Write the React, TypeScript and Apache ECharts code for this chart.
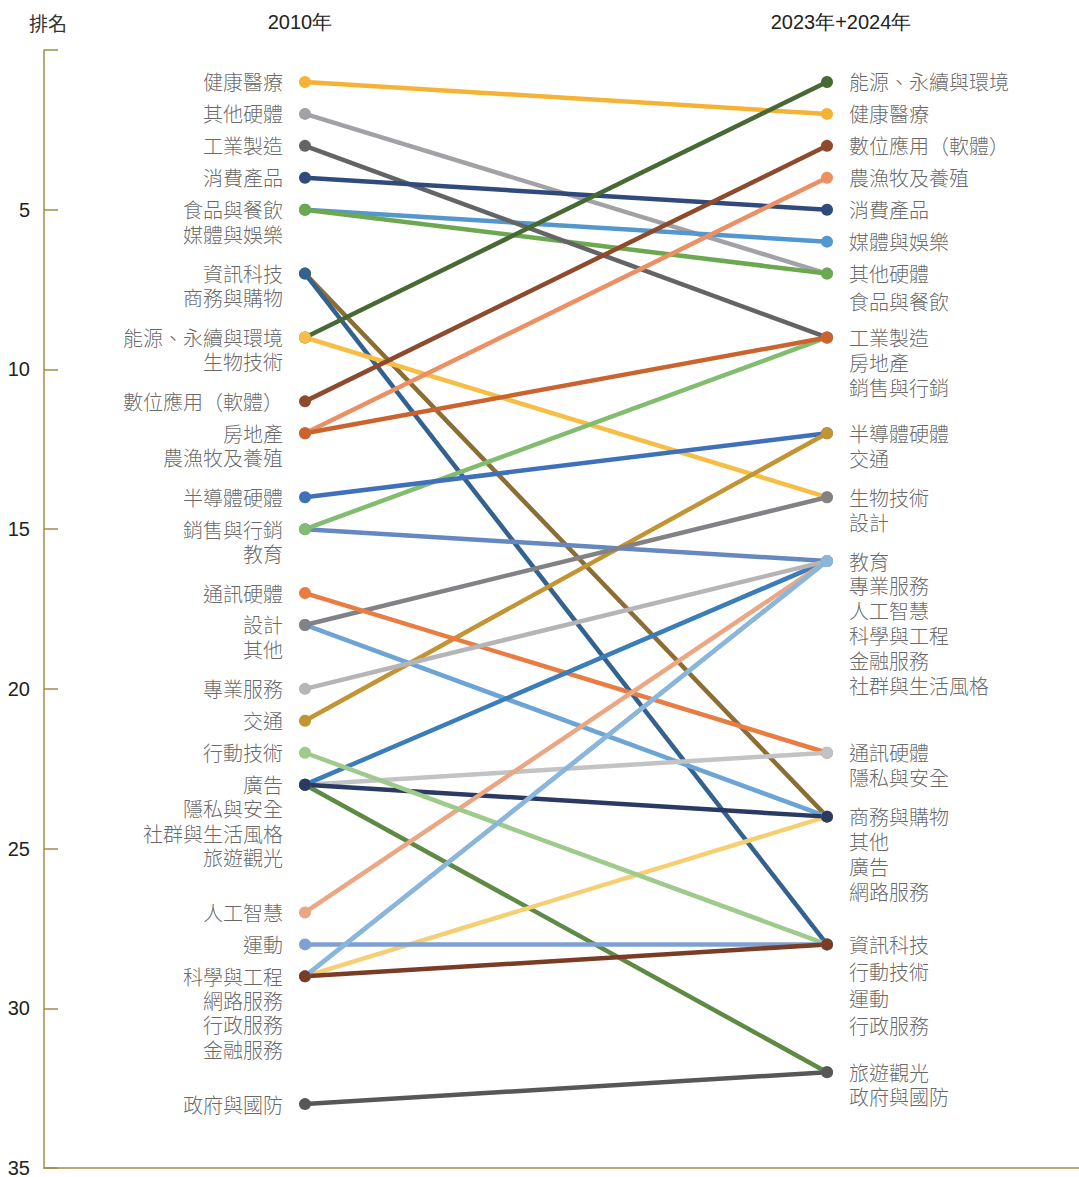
import React, { useEffect, useRef } from "react";
import * as echarts from "echarts";

const periods = ["2010年", "2023年+2024年"];

const categories = [
  "健康醫療", "其他硬體", "工業製造", "消費產品", "食品與餐飲", "媒體與娛樂",
  "資訊科技", "商務與購物", "能源、永續與環境", "生物技術", "數位應用（軟體）",
  "房地產", "農漁牧及養殖", "半導體硬體", "銷售與行銷", "教育", "通訊硬體",
  "設計", "其他", "專業服務", "交通", "行動技術", "廣告", "隱私與安全",
  "人工智慧", "運動", "科學與工程", "網路服務", "行政服務", "金融服務",
  "社群與生活風格", "旅遊觀光", "政府與國防",
];

const rank2010 = [
  1, 2, 3, 4, 5, 5,
  7, 7, 9, 9, 11,
  12, 12, 14, 15, 15, 17,
  18, 18, 20, 21, 22, 23, 23,
  27, 28, 29, 29, 29, 29,
  23, 23, 33,
];

const rank2024 = [
  2, 7, 9, 5, 7, 6,
  28, 24, 1, 14, 3,
  9, 4, 12, 9, 16, 22,
  14, 24, 16, 12, 28, 24, 22,
  16, 28, 16, 24, 28, 16,
  16, 32, 32,
];

const lineColors = [
  "#F5B335", "#A2A2A6", "#636466", "#304A7C", "#6BA84F", "#5496CE",
  "#33628F", "#8C6D34", "#476A34", "#F6BE47", "#8E4A2C",
  "#CA632E", "#EC9063", "#3F71BB", "#82BC6F", "#6588C3", "#E97C42",
  "#828286", "#6CA5D5", "#B5B5B8", "#C39433", "#9ECB8C", "#2B3A63", "#C2C3C5",
  "#EBA683", "#7EA0D3", "#8AB6DC", "#F5CF72", "#7A3C25", "#94BBE0",
  "#3A7DBA", "#5E8A45", "#555759",
];

// order in which the lines are painted (later = on top)
const drawOrder = [
  "健康醫療", "其他硬體", "媒體與娛樂", "食品與餐飲", "工業製造", "消費產品",
  "商務與購物", "資訊科技", "能源、永續與環境", "生物技術", "數位應用（軟體）",
  "教育", "銷售與行銷", "農漁牧及養殖", "房地產", "半導體硬體", "交通",
  "其他", "設計", "通訊硬體", "隱私與安全", "社群與生活風格", "旅遊觀光",
  "網路服務", "廣告", "專業服務", "人工智慧", "行動技術", "運動",
  "金融服務", "科學與工程", "行政服務", "政府與國防",
];

const rankMin = 0;
const rankMax = 35;
const rankStep = 5;

const AXIS_COLOR = "#A8884A";
const LABEL_FONT = "'Noto Sans CJK TC', 'Noto Sans CJK SC', sans-serif";
const LATIN_FONT = "'Liberation Sans', Arial, sans-serif";

function buildLabelData(side: number, ranks: number[], gap: number, gapOverride: Record<number, number>) {
  const seen: Record<number, number> = {};
  return categories.map((name, i) => {
    const r = ranks[i];
    const k = seen[r] ?? 0;
    seen[r] = k + 1;
    const g = gapOverride[r] ?? gap;
    return {
      name,
      value: [side, r],
      label: { offset: [0, k * g] },
    };
  });
}

export default function App() {
  const ref = useRef<HTMLDivElement>(null);

  useEffect(() => {
    if (!ref.current) return;
    const chart = echarts.init(ref.current, undefined, { renderer: "svg" });

    const lineSeries = drawOrder.map((name) => {
      const i = categories.indexOf(name);
      return {
        type: "line",
        name,
        xAxisIndex: 0,
        yAxisIndex: 0,
        data: [rank2010[i], rank2024[i]],
        symbol: "circle",
        symbolSize: 12,
        showSymbol: true,
        lineStyle: { width: 4.5, color: lineColors[i] },
        itemStyle: { color: lineColors[i] },
        emphasis: { disabled: true },
        silent: true,
      };
    });

    const labelStyle = {
      show: true,
      fontSize: 20,
      lineHeight: 21,
      color: "#404040",
      fontFamily: LABEL_FONT,
      fontWeight: 300,
      distance: 21.5,
      formatter: (p: any) => p.name,
    };

    const leftLabels = {
      type: "scatter",
      xAxisIndex: 0,
      yAxisIndex: 0,
      symbolSize: 1,
      itemStyle: { color: "rgba(0,0,0,0)" },
      silent: true,
      label: { ...labelStyle, position: "left" },
      data: buildLabelData(0, rank2010, 24.3, {}),
      z: 5,
    };

    const rightLabels = {
      type: "scatter",
      xAxisIndex: 0,
      yAxisIndex: 0,
      symbolSize: 1,
      itemStyle: { color: "rgba(0,0,0,0)" },
      silent: true,
      label: { ...labelStyle, position: "right" },
      data: buildLabelData(1, rank2024, 24.8, { 7: 28, 28: 27 }),
      z: 5,
    };

    chart.setOption({
      animation: false,
      grid: {
        left: 44,
        width: 1044,
        top: 50,
        bottom: 9,
        containLabel: false,
        outerBoundsMode: "none",
      },
      xAxis: [
        {
          type: "category",
          data: periods,
          position: "top",
          boundaryGap: true,
          axisLine: { show: false },
          axisTick: { show: false },
          axisLabel: { show: false },
          splitLine: { show: false },
        },
        {
          type: "category",
          data: periods,
          position: "bottom",
          boundaryGap: true,
          axisLine: { show: true, onZero: false, lineStyle: { color: AXIS_COLOR, width: 1.5 } },
          axisTick: { show: false },
          axisLabel: { show: false },
          splitLine: { show: false },
        },
      ],
      yAxis: {
        type: "value",
        inverse: true,
        min: rankMin,
        max: rankMax,
        interval: rankStep,
        name: "排名",
        nameLocation: "start",
        nameGap: 18,
        nameTextStyle: {
          fontSize: 19,
          color: "#333",
          fontFamily: LABEL_FONT,
          padding: [0, 0, 0, 8],
        },
        axisLine: { show: true, lineStyle: { color: AXIS_COLOR, width: 1.5 } },
        axisTick: { show: true, inside: true, length: 14, lineStyle: { color: AXIS_COLOR, width: 1.5 } },
        axisLabel: {
          margin: 14,
          fontSize: 20,
          color: "#222",
          fontFamily: LATIN_FONT,
          formatter: (v: number) => (v === rankMin ? "" : String(v)),
        },
        splitLine: { show: false },
      },
      graphic: [
        {
          type: "text",
          x: 300,
          y: 22,
          style: {
            text: periods[0],
            align: "center",
            verticalAlign: "middle",
            textAlign: "center",
            textVerticalAlign: "middle",
            fontSize: 20,
            fontFamily: LATIN_FONT,
            fill: "#222",
          },
        },
        {
          type: "text",
          x: 841,
          y: 22,
          style: {
            text: periods[1],
            align: "center",
            verticalAlign: "middle",
            textAlign: "center",
            textVerticalAlign: "middle",
            fontSize: 20,
            fontFamily: LATIN_FONT,
            fill: "#222",
          },
        },
      ],
      series: [...lineSeries, leftLabels, rightLabels],
    });

    return () => chart.dispose();
  }, []);

  return (
    <div
      ref={ref}
      style={{
        position: "absolute",
        left: 0,
        top: 0,
        width: 1079,
        height: 1177,
        overflow: "hidden",
      }}
    />
  );
}
